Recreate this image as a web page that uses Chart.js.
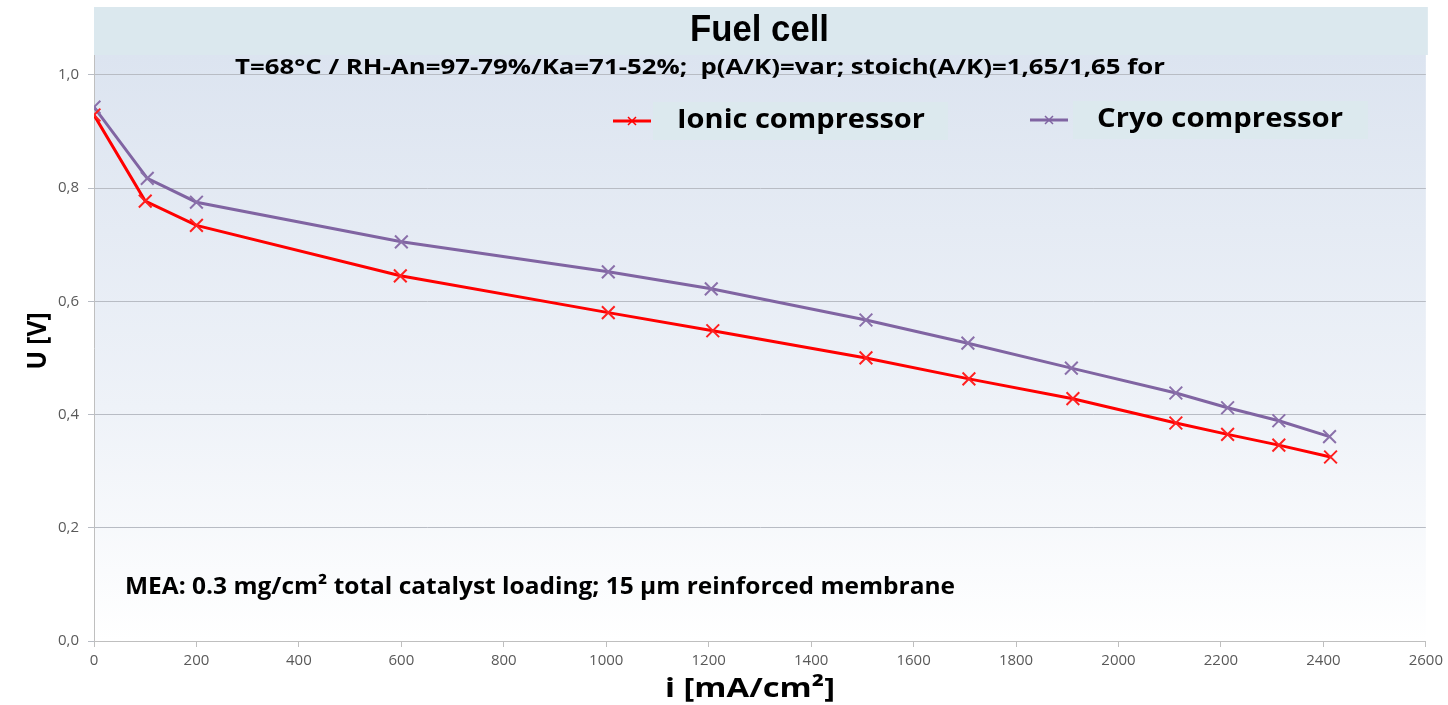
<!DOCTYPE html>
<html>
<head>
<meta charset="utf-8">
<script src="https://cdn.jsdelivr.net/npm/chart.js@4"></script>
<style>
  html, body { margin: 0; padding: 0; background: #ffffff; }
  #wrap { width: 1448px; height: 705px; }
</style>
</head>
<body>
<div id="wrap"><canvas id="fcChart" width="1448" height="705"></canvas></div>
<script>
// current density i [mA/cm²]
const ionicCurrent = [0, 100, 200, 598, 1004, 1208, 1507, 1708, 1911, 2112, 2213, 2313, 2414];
const cryoCurrent  = [0, 104, 200, 600, 1004, 1205, 1507, 1706, 1908, 2112, 2213, 2313, 2412];
// cell voltage U [V]
const ionicVoltage = [0.929, 0.777, 0.734, 0.645, 0.580, 0.548, 0.500, 0.463, 0.428, 0.385, 0.365, 0.346, 0.325];
const cryoVoltage  = [0.943, 0.817, 0.775, 0.705, 0.652, 0.622, 0.567, 0.526, 0.482, 0.438, 0.412, 0.389, 0.361];

const seriesNames = ['Ionic compressor', 'Cryo compressor'];
const chartTitle = 'Fuel cell';
const chartSubtitle = 'T=68°C / RH-An=97-79%/Ka=71-52%;  p(A/K)=var; stoich(A/K)=1,65/1,65 for';
const noteText = 'MEA: 0.3 mg/cm² total catalyst loading; 15 µm reinforced membrane';
const xAxisTitle = 'i [mA/cm²]';
const yAxisTitle = 'U [V]';

function toPoints(xs, ys) {
    return xs.map(function(x, i) { return { x: x, y: ys[i] }; });
}

function formatComma(value) {
    return value.toFixed(1).replace('.', ',');
}

// draws text squeezed/stretched horizontally to a given width
function fitText(ctx, text, left, y, width) {
    const w = ctx.measureText(text).width;
    ctx.save();
    ctx.translate(left, y);
    ctx.scale(width / w, 1);
    ctx.textAlign = 'left';
    ctx.fillText(text, 0, 0);
    ctx.restore();
}

const decorPlugin = {
    id: 'decor',
    beforeDraw: function(chart) {
        const ctx = chart.ctx;
        const area = chart.chartArea;
        ctx.save();
        // title band
        ctx.fillStyle = '#dbe8ee';
        ctx.fillRect(area.left, 7, area.right - area.left + 2, area.top - 7);
        // plot gradient
        const grad = ctx.createLinearGradient(0, area.top, 0, area.bottom);
        grad.addColorStop(0, '#dce4f0');
        grad.addColorStop(0.6, '#eef2f8');
        grad.addColorStop(1, '#ffffff');
        ctx.fillStyle = grad;
        ctx.fillRect(area.left, area.top, area.right - area.left, area.bottom - area.top);
        ctx.restore();
    },
    afterDraw: function(chart) {
        const ctx = chart.ctx;
        ctx.save();
        ctx.fillStyle = '#000000';
        ctx.textBaseline = 'middle';

        ctx.font = 'bold 36px "Liberation Sans", Arial, sans-serif';
        fitText(ctx, chartTitle, 690, 31, 139);

        ctx.font = 'bold 22px "Open Sans", sans-serif';
        fitText(ctx, chartSubtitle, 235, 68, 930);

        ctx.font = 'bold 24px "Open Sans", sans-serif';
        fitText(ctx, noteText, 125, 587, 830);

        // axis titles
        ctx.font = 'bold 27px "Open Sans", sans-serif';
        fitText(ctx, xAxisTitle, 665, 689, 170);

        ctx.font = 'bold 26px "Open Sans", sans-serif';
        ctx.save();
        ctx.translate(39, 341);
        ctx.rotate(-Math.PI / 2);
        fitText(ctx, yAxisTitle, -28.5, 0, 57);
        ctx.restore();

        // legend
        const legendPos = [
            { line: 613, box: 653, text: 677, width: 248, y: 120 },
            { line: 1030, box: 1073, text: 1097, width: 246, y: 119 }
        ];
        ctx.font = 'bold 27px "Open Sans", sans-serif';
        chart.data.datasets.forEach(function(ds, i) {
            const p = legendPos[i];
            ctx.fillStyle = '#dce9ee';
            ctx.fillRect(p.box, p.y - 18, 295, 38);
            ctx.strokeStyle = ds.borderColor;
            ctx.lineWidth = 3;
            ctx.beginPath();
            ctx.moveTo(p.line, p.y + 1);
            ctx.lineTo(p.line + 38, p.y + 1);
            ctx.stroke();
            ctx.lineWidth = 1.5;
            ctx.beginPath();
            ctx.moveTo(p.line + 15, p.y - 3);
            ctx.lineTo(p.line + 23, p.y + 5);
            ctx.moveTo(p.line + 23, p.y - 3);
            ctx.lineTo(p.line + 15, p.y + 5);
            ctx.stroke();
            ctx.fillStyle = '#000000';
            fitText(ctx, ds.label, p.text, p.y, p.width);
        });
        ctx.restore();
    }
};

const ctx = document.getElementById('fcChart').getContext('2d');
new Chart(ctx, {
    type: 'line',
    data: {
        datasets: [
            {
                label: seriesNames[0],
                data: toPoints(ionicCurrent, ionicVoltage),
                borderColor: '#ff0000',
                backgroundColor: '#ff0000',
                borderWidth: 3,
                pointStyle: 'crossRot',
                pointRadius: 9,
                pointBorderWidth: 2,
                pointBorderColor: '#ff2020',
                tension: 0,
                fill: false
            },
            {
                label: seriesNames[1],
                data: toPoints(cryoCurrent, cryoVoltage),
                borderColor: '#8064a2',
                backgroundColor: '#8064a2',
                borderWidth: 3,
                pointStyle: 'crossRot',
                pointRadius: 9,
                pointBorderWidth: 2,
                pointBorderColor: '#8a70aa',
                tension: 0,
                fill: false
            }
        ]
    },
    options: {
        responsive: false,
        animation: false,
        layout: { padding: { top: 55, right: 22, bottom: 0, left: 0 } },
        plugins: {
            legend: { display: false },
            tooltip: { enabled: false }
        },
        scales: {
            x: {
                type: 'linear',
                min: 0,
                max: 2600,
                afterFit: function(scale) { scale.height = 64; },
                ticks: {
                    stepSize: 200,
                    color: '#595959',
                    font: { family: 'Open Sans', size: 15 },
                    padding: 5,
                    maxRotation: 0,
                    callback: function(value) { return String(value); }
                },
                grid: {
                    drawOnChartArea: false,
                    drawTicks: true,
                    tickLength: 6,
                    color: '#bfbfbf'
                },
                border: { color: '#bfbfbf', width: 1 }
            },
            y: {
                type: 'linear',
                min: 0,
                max: 1.035,
                afterFit: function(scale) { scale.width = 94; },
                afterBuildTicks: function(scale) {
                    scale.ticks = scale.ticks.filter(function(t) { return t.value <= 1.0001; });
                },
                ticks: {
                    stepSize: 0.2,
                    color: '#595959',
                    font: { family: 'Open Sans', size: 15 },
                    padding: 9,
                    callback: function(value) { return formatComma(value); }
                },
                grid: {
                    color: '#b8bcc4',
                    lineWidth: 1,
                    tickLength: 6
                },
                border: { color: '#bfbfbf', width: 1 }
            }
        }
    },
    plugins: [decorPlugin]
});
</script>
</body>
</html>
